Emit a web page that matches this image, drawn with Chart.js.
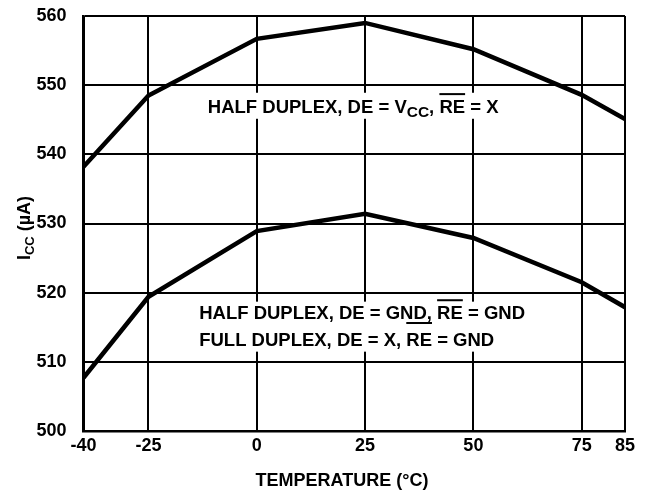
<!DOCTYPE html>
<html>
<head>
<meta charset="utf-8">
<script src="https://cdn.jsdelivr.net/npm/chart.js@4.4.1/dist/chart.umd.min.js"></script>
<style>
  html, body { margin: 0; padding: 0; background: #fff; }
  #wrap { width: 649px; height: 492px; position: relative; }
</style>
</head>
<body>
<div id="wrap"><canvas id="icc"></canvas></div>
<script>
// Data
const temps = [-40, -25, 0, 25, 50, 75, 85];
const xTicks = [-40, -25, 0, 25, 50, 75, 85];
const halfDuplexVcc = [538.2, 548.5, 556.7, 559.0, 555.2, 548.6, 545.1];
const groundedRE = [507.7, 519.4, 528.9, 531.4, 527.9, 521.5, 517.9];

const FONT = 'bold 18.5px "Liberation Sans", Arial, sans-serif';
const SUB_FONT = 'bold 15.5px "Liberation Sans", Arial, sans-serif';
const TITLE_FONT = 'bold 18px "Liberation Sans", Arial, sans-serif';
const TITLE_SUB = 'bold 13px "Liberation Sans", Arial, sans-serif';

// draws a line of text made of pieces; pieces may be subscript or overlined
function drawRich(ctx, x, base, parts, font, subFont) {
    let cx = x;
    parts.forEach(p => {
        ctx.font = p.sub ? subFont : font;
        const w = ctx.measureText(p.t).width;
        ctx.fillText(p.t, cx, p.sub ? base + 4 : base);
        if (p.over) {
            ctx.fillRect(cx, base - p.over, w, 2);
        }
        cx += w;
    });
    return cx;
}

const textPlugin = {
    id: 'labels',
    beforeDatasetsDraw(chart) {
        const ctx = chart.ctx;
        const xs = chart.scales.x, ys = chart.scales.y;
        ctx.save();
        ctx.fillStyle = '#fff';
        // white boxes behind the curve labels
        ctx.fillRect(xs.getPixelForValue(-12), ys.getPixelForValue(548.9),
            xs.getPixelForValue(57.5) - xs.getPixelForValue(-12), 26);
        ctx.fillRect(xs.getPixelForValue(-14), ys.getPixelForValue(518.7),
            xs.getPixelForValue(61.7) - xs.getPixelForValue(-14), 50);
        ctx.restore();
    },
    afterDatasetsDraw(chart) {
        const ctx = chart.ctx;
        const xs = chart.scales.x, ys = chart.scales.y;
        ctx.save();
        ctx.fillStyle = '#000';
        ctx.textBaseline = 'alphabetic';
        ctx.textAlign = 'left';

        let x0 = xs.getPixelForValue(-11.3);
        let b = ys.getPixelForValue(546.9) + 6.5;
        drawRich(ctx, x0, b, [
            { t: 'HALF DUPLEX, DE = V' }, { t: 'CC', sub: true }, { t: ', ' },
            { t: 'RE', over: 20 }, { t: ' = X' }
        ], FONT, SUB_FONT);

        x0 = xs.getPixelForValue(-13.3);
        b = ys.getPixelForValue(517.1) + 6.5;
        drawRich(ctx, x0, b, [
            { t: 'HALF DUPLEX, DE = GND, ' }, { t: 'RE', over: 20 }, { t: ' = GND' }
        ], FONT, SUB_FONT);
        b = ys.getPixelForValue(513.3) + 6.5;
        drawRich(ctx, x0, b, [
            { t: 'FULL DUPLEX, DE = X, ' }, { t: 'RE', over: 23.5 }, { t: ' = GND' }
        ], FONT, SUB_FONT);

        // axis titles
        ctx.font = TITLE_FONT;
        ctx.textAlign = 'center';
        ctx.fillText('TEMPERATURE (°C)', 342, 486);

        ctx.translate(30, 228);
        ctx.rotate(-Math.PI / 2);
        ctx.textAlign = 'left';
        ctx.font = TITLE_FONT;
        const w1 = ctx.measureText('I').width;
        ctx.font = TITLE_SUB;
        const w2 = ctx.measureText('CC').width;
        ctx.font = TITLE_FONT;
        const w3 = ctx.measureText(' (µA)').width;
        drawRich(ctx, -(w1 + w2 + w3) / 2, 0, [
            { t: 'I' }, { t: 'CC', sub: true }, { t: ' (µA)' }
        ], TITLE_FONT, TITLE_SUB);
        ctx.restore();
    }
};

new Chart(document.getElementById('icc'), {
    type: 'line',
    data: {
        datasets: [
            {
                label: 'HALF DUPLEX, DE = VCC, RE = X',
                data: temps.map((t, i) => ({ x: t, y: halfDuplexVcc[i] })),
                borderColor: '#000',
                borderWidth: 4.5,
                pointRadius: 0,
                tension: 0
            },
            {
                label: 'RE = GND',
                data: temps.map((t, i) => ({ x: t, y: groundedRE[i] })),
                borderColor: '#000',
                borderWidth: 4.5,
                pointRadius: 0,
                tension: 0
            }
        ]
    },
    options: {
        responsive: true,
        maintainAspectRatio: false,
        animation: false,
        layout: { padding: { left: 0, right: 24, top: 16, bottom: 0 } },
        plugins: {
            legend: { display: false },
            tooltip: { enabled: false }
        },
        scales: {
            x: {
                type: 'linear',
                min: -40,
                max: 85,
                afterBuildTicks: axis => { axis.ticks = xTicks.map(v => ({ value: v })); },
                afterFit: axis => {
                    axis.height = 61;
                    axis.paddingLeft = 0;
                    axis.paddingRight = 0;
                },
                grid: { color: '#000', lineWidth: 2, drawTicks: false },
                border: { color: '#000', width: 2.5 },
                ticks: {
                    color: '#000',
                    padding: 4,
                    autoSkip: false,
                    maxRotation: 0,
                    font: { family: '"Liberation Sans", Arial, sans-serif', size: 18, weight: 'bold' }
                }
            },
            y: {
                min: 500,
                max: 560,
                afterFit: axis => {
                    axis.width = 83.5;
                    axis.paddingTop = 0;
                    axis.paddingBottom = 0;
                },
                grid: { color: '#000', lineWidth: 2, drawTicks: false },
                border: { color: '#000', width: 2.5 },
                ticks: {
                    stepSize: 10,
                    color: '#000',
                    padding: 17,
                    font: { family: '"Liberation Sans", Arial, sans-serif', size: 18, weight: 'bold' }
                }
            }
        }
    },
    plugins: [textPlugin]
});
</script>
</body>
</html>
